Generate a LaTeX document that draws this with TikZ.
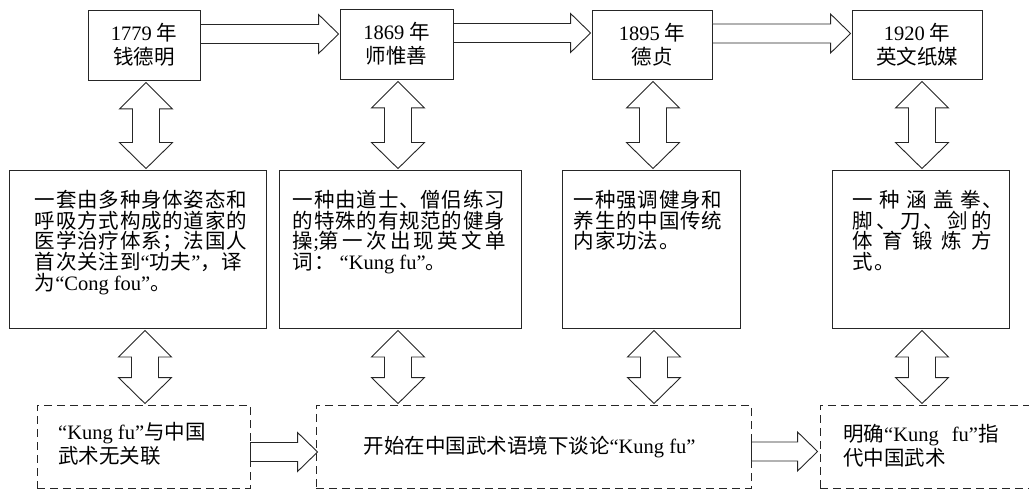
\documentclass[tikz,border=0pt]{standalone}
\usepackage{fontspec}
\setmainfont{Noto Sans CJK SC}
\newfontfamily\cjkm{Noto Sans CJK SC}[LetterSpace=4]
\newfontfamily\latfont{Liberation Serif}
\newcommand\EN[1]{{\latfont #1}}
\usetikzlibrary{calc}
\tikzset{
  boxline/.style={draw=black!85, line width=0.9pt},
  topbox/.style={boxline, rectangle, inner sep=0pt, align=center, font=\fontsize{20.5}{24}\selectfont},
  midbox/.style={boxline, rectangle, inner sep=0pt},
  midtext/.style={anchor=north west, inner sep=0pt, align=left, font=\cjkm\fontsize{20.5}{20.7}\selectfont},
  lowbox/.style={boxline, dash pattern=on 8pt off 5pt, rectangle, inner sep=0pt},
  lowtext/.style={inner sep=0pt, align=left, font=\fontsize{20.5}{24}\selectfont},
  blockarrow/.style={draw=black!85, line width=0.9pt, fill=white, line join=miter},
}
% vertical double block arrow: #1 node giving x, #2 upper anchor, #3 lower anchor, #4 x shift
\newcommand\vdarrow[4]{%
  \draw[blockarrow] let \p1=(#1), \p2=(#2), \p3=(#3) in
    ({\x1+#4pt},{\y2-2pt}) -- ({\x1+#4pt+26.5pt},{\y2-28.5pt}) -- ({\x1+#4pt+13.5pt},{\y2-28.5pt})
    -- ({\x1+#4pt+13.5pt},{\y3+27pt}) -- ({\x1+#4pt+26.5pt},{\y3+27pt}) -- ({\x1+#4pt},{\y3+1pt})
    -- ({\x1+#4pt-26.5pt},{\y3+27pt}) -- ({\x1+#4pt-13.5pt},{\y3+27pt})
    -- ({\x1+#4pt-13.5pt},{\y2-28.5pt}) -- ({\x1+#4pt-26.5pt},{\y2-28.5pt}) -- cycle;}
% horizontal single block arrow: #1 from anchor, #2 to anchor, #3 y shift, #4 tip shift
\newcommand\hsarrow[4]{%
  \draw[blockarrow] let \p1=(#1), \p2=(#2) in
    (\x1,{\y1+#3pt+9.5pt}) -- ({\x2+#4pt-20pt},{\y1+#3pt+9.5pt}) -- ({\x2+#4pt-20pt},{\y1+#3pt+19.5pt})
    -- ({\x2+#4pt},{\y1+#3pt}) -- ({\x2+#4pt-20pt},{\y1+#3pt-19.5pt}) -- ({\x2+#4pt-20pt},{\y1+#3pt-9.5pt})
    -- (\x1,{\y1+#3pt-9.5pt}) -- cycle;}
\begin{document}
\begin{tikzpicture}[x=1pt,y=-1pt]
\setlength{\lineskiplimit}{-20pt}
\useasboundingbox (0,0) rectangle (1029,489);
\clip (0,0) rectangle (1029,489);
% top row
\node[topbox, minimum width=112pt, minimum height=70pt] (t1) at (144,45) {\EN{1779} 年\\钱德明};
\node[topbox, minimum width=113pt, minimum height=70pt] (t2) at (396.5,44) {\EN{1869} 年\\师惟善};
\node[topbox, minimum width=120pt, minimum height=69pt] (t3) at (652,44.5) {\EN{1895} 年\\德贞};
\node[topbox, minimum width=130pt, minimum height=69pt] (t4) at (917,44.5) {\EN{1920} 年\\英文纸媒};
% middle row
\node[midbox, minimum width=257pt, minimum height=158pt] (m1) at (137.5,249) {};
\node[midbox, minimum width=242pt, minimum height=158pt] (m2) at (400,249) {};
\node[midbox, minimum width=178pt, minimum height=158pt] (m3) at (651,249) {};
\node[midbox, minimum width=177pt, minimum height=158pt] (m4) at (920.5,249) {};
\node[midtext] (m1t) at ($(m1.north west)+(26,20.5)$) {一套由多种身体姿态和\\呼吸方式构成的道家的\\医学治疗体系；法国人\\首次关注到\EN{“}功夫\EN{”}，译\\为\EN{“Cong fou”}。};
\node[midtext] (m2t) at ($(m2.north west)+(14,20.5)$) {一种由道士、僧侣练习\\的特殊的有规范的健身\\\makebox[213pt][s]{操\EN{;}第\hfill 一\hfill 次\hfill 出\hfill 现\hfill 英\hfill 文\hfill 单}\\词：\EN{ “Kung fu”}。};
\node[midtext] (m3t) at ($(m3.north west)+(12,20.5)$) {一种强调健身和\\养生的中国传统\\内家功法。};
\node[midtext] (m4t) at ($(m4.north west)+(21,20.5)$) {\makebox[150pt][s]{一\hfill 种\hfill 涵\hfill 盖\hfill 拳、}\\\makebox[139pt][s]{脚\hfill 、\hfill 刀\hfill 、\hfill 剑\hfill 的}\\\makebox[139pt][s]{体\hfill 育\hfill 锻\hfill 炼\hfill 方}\\式。};
% bottom row
\node[lowbox, minimum width=213pt, minimum height=83pt] (b1) at (143.5,446.5) {};
\node[lowbox, minimum width=435pt, minimum height=83pt] (b2) at (533.5,446.5) {};
\node[lowbox, minimum width=220pt, minimum height=83pt] (b3) at (930,446.5) {};
\node[lowtext, anchor=west] (b1t) at (58,444) {\EN{“Kung fu”}与中国\\武术无关联};
\node[lowtext] (b2t) at (529.5,447) {开始在中国武术语境下谈论\EN{“Kung fu”}};
\node[lowtext, anchor=west] (b3t) at (843,446) {明确\EN{“Kung\hspace{13pt}fu”}指\\代中国武术};
% horizontal arrows
\hsarrow{t1.east}{t2.west}{11}{-1}
\hsarrow{t2.east}{t3.west}{11}{-1}
\hsarrow{t3.east}{t4.west}{11}{-1}
\hsarrow{b1.east}{b2.west}{-5.5}{2}
\hsarrow{b2.east}{b3.west}{-5}{-2}
% vertical double arrows
\vdarrow{t1.south}{t1.south}{m1.north}{2}
\vdarrow{t2.south}{t2.south}{m2.north}{1.5}
\vdarrow{t3.south}{t3.south}{m3.north}{1}
\vdarrow{t4.south}{t4.south}{m4.north}{5}
\vdarrow{t1.south}{m1.south}{b1.north}{1}
\vdarrow{t2.south}{m2.south}{b2.north}{1.5}
\vdarrow{t3.south}{m3.south}{b3.north}{2}
\vdarrow{t4.south}{m4.south}{b3.north}{5}
\end{tikzpicture}
\end{document}
